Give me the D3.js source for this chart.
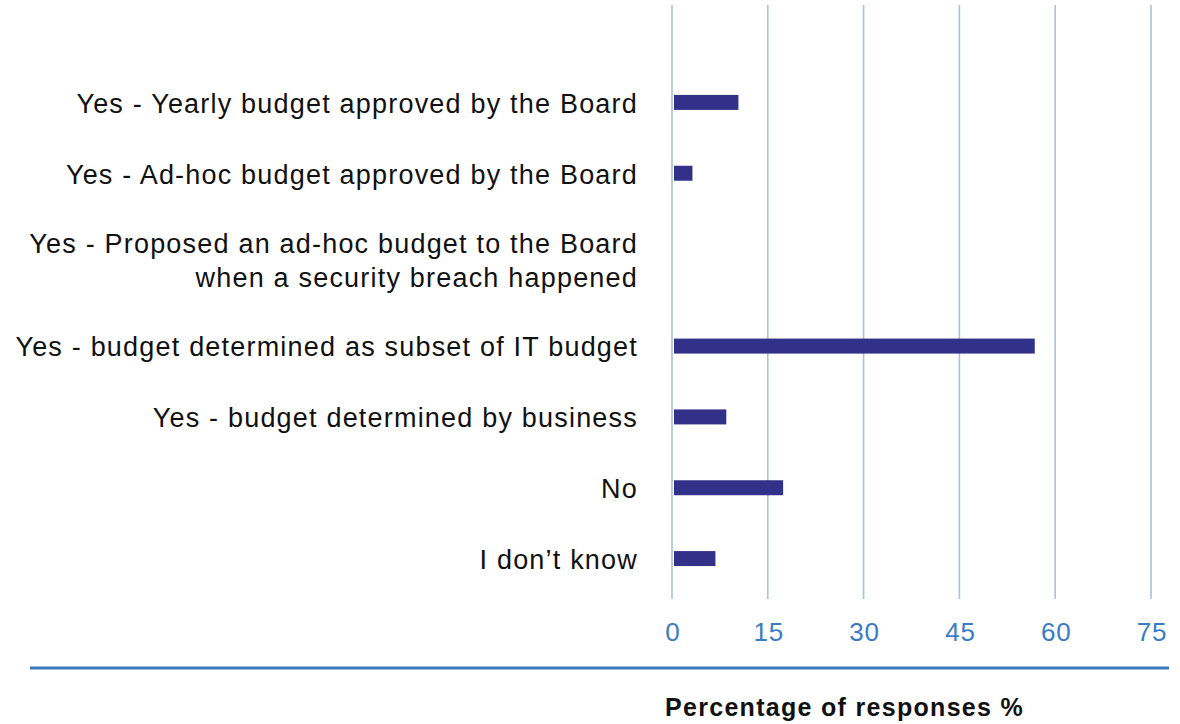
<!DOCTYPE html>
<html>
<head>
<meta charset="utf-8">
<script src="https://cdn.jsdelivr.net/npm/d3@7"></script>
<style>
  html, body { margin: 0; padding: 0; background: #ffffff; }
  svg { display: block; }
  text { font-family: "Liberation Sans", Arial, Helvetica, sans-serif; }
</style>
</head>
<body>
<svg id="chart" width="1180" height="724"></svg>
<script>
// Budget responses, one entry per answer (a "\n" wraps the label)
const categories = [
  "Yes - Yearly budget approved by the Board",
  "Yes - Ad-hoc budget approved by the Board",
  "Yes - Proposed an ad-hoc budget to the Board\nwhen a security breach happened",
  "Yes - budget determined as subset of IT budget",
  "Yes - budget determined by business",
  "No",
  "I don\u2019t know"
];
const values = [10.4, 3.2, 0, 56.8, 8.5, 17.4, 6.8];
const xTicks = [0, 15, 30, 45, 60, 75];
const axisTitle = "Percentage of responses %";

const svg = d3.select("#chart");

// Horizontal value scale
const x = d3.scaleLinear().domain([0, 75]).range([672, 1151]);

// Rows grow with the number of label lines
const lines = categories.map(c => c.split("\n"));
const weights = lines.map(l => 1 + 0.44 * (l.length - 1));
const cum = [0, ...d3.cumsum(weights)];
const y = d3.scaleLinear().domain([0, cum[cum.length - 1]]).range([67, 594]);
const rowCenter = i => y(cum[i] + weights[i] / 2);

// Vertical gridlines
svg.append("g")
  .selectAll("line")
  .data(xTicks)
  .join("line")
  .attr("x1", d => x(d)).attr("x2", d => x(d))
  .attr("y1", 5).attr("y2", 599)
  .attr("stroke", "#a8c1df")
  .attr("stroke-width", 1.6);

// Bars
const barH = 15;
svg.append("g")
  .selectAll("rect")
  .data(values)
  .join("rect")
  .attr("x", x(0) + 2)
  .attr("y", (d, i) => rowCenter(i) - barH / 2)
  .attr("width", d => Math.max(0, x(d) - x(0) - 2))
  .attr("height", barH)
  .attr("fill", d => d > 0 ? "#31318a" : "none");

// Category labels, right aligned
const labelG = svg.append("g");
lines.forEach((ls, i) => {
  const cy = rowCenter(i);
  const lh = 34;
  const t = labelG.append("text")
    .attr("text-anchor", "end")
    .attr("font-size", 27)
    .attr("letter-spacing", 1.2)
    .attr("fill", "#111");
  ls.forEach((s, k) => {
    t.append("tspan")
      .attr("x", 638)
      .attr("y", cy + (k - (ls.length - 1) / 2) * lh)
      .attr("dy", "0.38em")
      .text(s);
  });
});

// Tick labels
svg.append("g")
  .selectAll("text")
  .data(xTicks)
  .join("text")
  .attr("x", d => x(d) + 1)
  .attr("y", 632)
  .attr("dy", "0.36em")
  .attr("text-anchor", "middle")
  .attr("font-size", 26)
  .attr("letter-spacing", 0.8)
  .attr("fill", "#3a7cc3")
  .text(d => d);

// Rule under the axis
svg.append("line")
  .attr("x1", 30).attr("x2", 1169)
  .attr("y1", 668).attr("y2", 668)
  .attr("stroke", "#3a78be")
  .attr("stroke-width", 3);

// Axis title
svg.append("text")
  .attr("x", 665)
  .attr("y", 716)
  .attr("font-size", 25)
  .attr("font-weight", "bold")
  .attr("letter-spacing", 1.3)
  .attr("fill", "#111")
  .text(axisTitle);
</script>
</body>
</html>
